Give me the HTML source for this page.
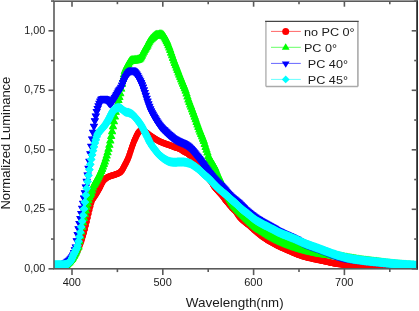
<!DOCTYPE html>
<html><head><meta charset="utf-8"><style>
html,body{margin:0;padding:0;background:#fff;width:419px;height:311px;overflow:hidden}
svg{display:block;will-change:transform}
text{font-family:"Liberation Sans",sans-serif}
</style></head><body>
<svg width="419" height="311" viewBox="0 0 419 311" font-family="Liberation Sans, sans-serif" fill="#1a1a1a">
<rect width="419" height="311" fill="#fff"/>
<defs>
<marker id="mr" markerUnits="userSpaceOnUse" markerWidth="10" markerHeight="10" refX="0" refY="0" overflow="visible"><circle r="3.0" fill="#f00"/></marker>
<marker id="mg" markerUnits="userSpaceOnUse" markerWidth="10" markerHeight="10" refX="0" refY="0" overflow="visible"><polygon points="0,-4.6 4.1,2.4 -4.1,2.4" fill="#0f0"/></marker>
<marker id="mb" markerUnits="userSpaceOnUse" markerWidth="10" markerHeight="10" refX="0" refY="0" overflow="visible"><polygon points="-4.1,-2.4 4.1,-2.4 0,4.6" fill="#00f"/></marker>
<marker id="mc" markerUnits="userSpaceOnUse" markerWidth="10" markerHeight="10" refX="0" refY="0" overflow="visible"><polygon points="0,-4.2 4.2,0 0,4.2 -4.2,0" fill="#0ff"/></marker>
</defs><defs><clipPath id="pa"><rect x="54" y="1.2" width="363.2" height="267.6"/></clipPath></defs>
<g clip-path="url(#pa)">
<path d="M54.00,266.80 C55.33,266.78 60.00,266.83 62.00,266.70 C64.00,266.57 64.92,266.40 66.00,266.00 C67.08,265.60 67.70,265.00 68.50,264.30 C69.30,263.60 70.05,262.72 70.80,261.80 C71.55,260.88 72.30,259.83 73.00,258.80 C73.70,257.77 74.37,256.68 75.00,255.60 C75.63,254.52 76.23,253.40 76.80,252.30 C77.37,251.20 77.89,250.22 78.40,249.00 C78.91,247.78 79.32,246.50 79.87,245.00 C80.42,243.50 81.13,241.67 81.70,240.00 C82.26,238.33 82.78,236.67 83.27,235.00 C83.76,233.33 84.21,231.67 84.65,230.00 C85.08,228.33 85.49,226.67 85.89,225.00 C86.29,223.33 86.67,221.67 87.05,220.00 C87.44,218.33 87.81,216.67 88.20,215.00 C88.60,213.33 88.98,211.67 89.40,210.00 C89.82,208.33 90.24,206.67 90.71,205.00 C91.17,203.33 91.36,201.70 92.18,200.00 C92.99,198.30 94.40,196.75 95.60,194.80 C96.80,192.85 98.42,190.10 99.40,188.30 C100.38,186.50 100.73,185.38 101.50,184.00 C102.27,182.62 102.92,181.17 104.00,180.00 C105.08,178.83 106.50,177.78 108.00,177.00 C109.50,176.22 111.17,175.97 113.00,175.30 C114.83,174.63 117.53,173.80 119.00,173.00 C120.47,172.20 120.92,171.67 121.80,170.50 C122.68,169.33 123.30,167.92 124.30,166.00 C125.30,164.08 126.78,161.38 127.80,159.00 C128.82,156.62 129.50,154.28 130.40,151.70 C131.30,149.12 132.23,146.03 133.20,143.50 C134.17,140.97 135.30,138.38 136.20,136.50 C137.10,134.62 137.80,133.22 138.60,132.20 C139.40,131.18 140.10,130.60 141.00,130.40 C141.90,130.20 143.00,130.53 144.00,131.00 C145.00,131.47 145.92,132.40 147.00,133.20 C148.08,134.00 149.40,135.02 150.50,135.80 C151.60,136.58 152.45,137.17 153.60,137.90 C154.75,138.63 156.33,139.58 157.40,140.20 C158.47,140.82 158.73,141.03 160.00,141.60 C161.27,142.17 163.33,142.98 165.00,143.60 C166.67,144.22 168.33,144.68 170.00,145.30 C171.67,145.92 173.33,146.68 175.00,147.30 C176.67,147.92 178.52,148.30 180.00,149.00 C181.48,149.70 182.62,150.75 183.90,151.50 C185.18,152.25 186.42,152.63 187.70,153.50 C188.98,154.37 190.32,155.58 191.60,156.70 C192.88,157.82 194.17,158.90 195.40,160.20 C196.63,161.50 197.90,163.03 199.00,164.50 C200.10,165.97 200.95,167.42 202.00,169.00 C203.05,170.58 204.25,172.50 205.30,174.00 C206.35,175.50 207.28,176.67 208.30,178.00 C209.32,179.33 210.45,180.62 211.40,182.00 C212.35,183.38 213.05,184.97 214.00,186.30 C214.95,187.63 216.07,188.83 217.10,190.00 C218.13,191.17 219.17,192.13 220.20,193.30 C221.23,194.47 222.33,195.75 223.30,197.00 C224.27,198.25 225.22,199.80 226.00,200.80 C226.78,201.80 227.02,201.87 228.00,203.00 C228.98,204.13 230.62,206.18 231.90,207.60 C233.18,209.02 234.35,209.85 235.70,211.50 C237.05,213.15 238.45,215.75 240.00,217.50 C241.55,219.25 243.33,220.58 245.00,222.00 C246.67,223.42 248.33,224.57 250.00,226.00 C251.67,227.43 253.33,229.11 255.00,230.56 C256.67,232.01 258.33,233.42 260.00,234.72 C261.67,236.02 263.33,237.25 265.00,238.38 C266.67,239.51 268.17,240.43 270.00,241.50 C271.83,242.57 274.00,243.77 276.00,244.80 C278.00,245.83 280.00,246.78 282.00,247.70 C284.00,248.62 286.00,249.43 288.00,250.30 C290.00,251.17 292.00,252.07 294.00,252.90 C296.00,253.73 297.33,254.43 300.00,255.30 C302.67,256.17 307.05,257.35 310.00,258.10 C312.95,258.85 315.13,259.25 317.70,259.80 C320.27,260.35 322.85,260.85 325.40,261.40 C327.95,261.95 330.57,262.63 333.00,263.10 C335.43,263.57 337.17,263.83 340.00,264.20 C342.83,264.57 346.67,264.97 350.00,265.30 C353.33,265.63 355.33,265.83 360.00,266.20 C364.67,266.57 371.33,267.17 378.00,267.50 C384.67,267.83 393.50,267.98 400.00,268.20 C406.50,268.42 414.17,268.70 417.00,268.80" transform="translate(0,0.00)" fill="none" stroke="#ff0000" stroke-width="1.50" stroke-linejoin="round" stroke-linecap="round"/>
<polyline points="54.00,266.55 54.91,266.55 55.82,266.55 56.72,266.55 57.63,266.54 58.54,266.54 59.45,266.53 60.36,266.51 61.26,266.49 62.17,266.44 63.08,266.36 63.99,266.26 64.90,266.09 65.80,265.83 66.71,265.44 67.62,264.83 68.53,264.06 69.44,263.18 70.34,262.15 71.25,261.04 72.16,259.83 73.07,258.52 73.98,257.13 74.88,255.63 75.79,254.04 76.70,252.34 77.61,250.58 78.52,248.59 79.42,246.11 80.33,243.63 81.24,241.18 82.15,238.53 83.06,235.62 83.96,232.46 84.87,229.04 85.78,225.36 86.69,221.50 87.60,217.55 88.50,213.64 89.41,209.87 90.32,206.33 91.23,202.73 92.14,199.96 93.04,198.35 93.95,197.03 94.86,195.75 95.77,194.35 96.68,192.86 97.58,191.33 98.49,189.76 99.40,188.15 100.31,186.33 101.22,184.38 102.12,182.68 103.03,181.08 103.94,179.87 104.85,178.96 105.76,178.20 106.66,177.55 107.57,177.00 108.48,176.53 109.39,176.17 110.30,175.89 111.20,175.62 112.11,175.35 113.02,175.05 113.93,174.73 114.84,174.41 115.74,174.10 116.65,173.77 117.56,173.42 118.47,173.03 119.38,172.56 120.28,171.96 121.19,171.08 122.10,169.90 123.01,168.36 123.92,166.59 124.82,164.85 125.73,163.13 126.64,161.35 127.55,159.44 128.46,157.23 129.36,154.66 130.27,151.96 131.18,149.27 132.09,146.53 133.00,143.92 133.90,141.59 134.81,139.42 135.72,137.38 136.63,135.46 137.54,133.68 138.44,132.22 139.35,131.14 140.26,130.44 141.17,130.12 142.08,130.13 142.98,130.35 143.89,130.71 144.80,131.24 145.71,131.94 146.62,132.68 147.52,133.37 148.43,134.05 149.34,134.73 150.25,135.39 151.16,136.04 152.06,136.66 152.97,137.27 153.88,137.85 154.79,138.41 155.70,138.96 156.60,139.50 157.51,140.03 158.42,140.57 159.33,141.05 160.24,141.47 161.14,141.85 162.05,142.22 162.96,142.58 163.87,142.93 164.78,143.27 165.68,143.60 166.59,143.91 167.50,144.21 168.41,144.50 169.32,144.81 170.22,145.14 171.13,145.50 172.04,145.87 172.95,146.24 173.86,146.61 174.76,146.97 175.67,147.29 176.58,147.58 177.49,147.85 178.40,148.14 179.30,148.46 180.21,148.87 181.12,149.39 182.03,150.00 182.94,150.65 183.84,151.23 184.75,151.72 185.66,152.15 186.57,152.60 187.48,153.12 188.38,153.76 189.29,154.49 190.20,155.26 191.11,156.05 192.02,156.85 192.92,157.64 193.83,158.45 194.74,159.32 195.65,160.26 196.56,161.27 197.46,162.35 198.37,163.49 199.28,164.70 200.19,166.02 201.10,167.43 202.00,168.83 202.91,170.22 203.82,171.62 204.73,172.99 205.64,174.29 206.54,175.52 207.45,176.71 208.36,177.89 209.27,179.04 210.18,180.17 211.08,181.37 211.99,182.76 212.90,184.35 213.81,185.84 214.72,187.06 215.62,188.14 216.53,189.16 217.44,190.17 218.35,191.13 219.26,192.08 220.16,193.06 221.07,194.10 221.98,195.17 222.89,196.29 223.80,197.48 224.70,198.79 225.61,200.09 226.52,201.23 227.43,202.17 228.34,203.19 229.24,204.28 230.15,205.37 231.06,206.45 231.97,207.47 232.88,208.40 233.78,209.26 234.69,210.17 235.60,211.19 236.51,212.39 237.42,213.74 238.32,215.10 239.23,216.37 240.14,217.46 241.05,218.39 241.96,219.22 242.86,220.01 243.77,220.76 244.68,221.51 245.59,222.27 246.50,223.00 247.40,223.70 248.31,224.41 249.22,225.13 250.13,225.89 251.04,226.70 251.94,227.54 252.85,228.39 253.76,229.23 254.67,230.05 255.58,230.84 256.48,231.62 257.39,232.39 258.30,233.14 259.21,233.87 260.12,234.59 261.02,235.29 261.93,235.97 262.84,236.64 263.75,237.29 264.66,237.92 265.56,238.53 266.47,239.12 267.38,239.70 268.29,240.25 269.20,240.80 270.10,241.33 271.01,241.85 271.92,242.36 272.83,242.87 273.74,243.36 274.64,243.85 275.55,244.33 276.46,244.80 277.37,245.26 278.28,245.70 279.18,246.14 280.09,246.58 281.00,247.00 281.91,247.42 282.82,247.83 283.72,248.23 284.63,248.62 285.54,249.01 286.45,249.39 287.36,249.78 288.26,250.17 289.17,250.57 290.08,250.97 290.99,251.37 291.90,251.76 292.80,252.15 293.71,252.54 294.62,252.92 295.53,253.32 296.44,253.71 297.34,254.09 298.25,254.45 299.16,254.77 300.07,255.08 300.98,255.36 301.88,255.64 302.79,255.90 303.70,256.16 304.61,256.42 305.52,256.67 306.42,256.92 307.33,257.16 308.24,257.40 309.15,257.64 310.06,257.87 310.96,258.09 311.87,258.31 312.78,258.51 313.69,258.71 314.60,258.90 315.50,259.09 316.41,259.28 317.32,259.47 318.23,259.66 319.14,259.86 320.04,260.04 320.95,260.23 321.86,260.41 322.77,260.60 323.68,260.79 324.58,260.98 325.49,261.17 326.40,261.37 327.31,261.58 328.22,261.79 329.12,262.01 330.03,262.22 330.94,262.42 331.85,262.62 332.76,262.80 333.66,262.98 334.57,263.14 335.48,263.30 336.39,263.44 337.30,263.58 338.20,263.71 339.11,263.83 340.02,263.95 340.93,264.07 341.84,264.18 342.74,264.28 343.65,264.39 344.56,264.49 345.47,264.58 346.38,264.68 347.28,264.77 348.19,264.87 349.10,264.96 350.01,265.05 350.92,265.14 351.82,265.23 352.73,265.32 353.64,265.41 354.55,265.49 355.46,265.57 356.36,265.65 357.27,265.73 358.18,265.80 359.09,265.88 360.00,265.95 360.90,266.02 361.81,266.10 362.72,266.17 363.63,266.24 364.54,266.32 365.44,266.39 366.35,266.46 367.26,266.54 368.17,266.61 369.08,266.68 369.98,266.74 370.89,266.81 371.80,266.87 372.71,266.94 373.62,267.00 374.52,267.05 375.43,267.11 376.34,267.16 377.25,267.21 378.16,267.26 379.06,267.30 379.97,267.34 380.88,267.38 381.79,267.41 382.70,267.45 383.60,267.48 384.51,267.51 385.42,267.54 386.33,267.57 387.24,267.59 388.14,267.62 389.05,267.64 389.96,267.67 390.87,267.69 391.78,267.72 392.68,267.74 393.59,267.76 394.50,267.79 395.41,267.81 396.32,267.84 397.22,267.86 398.13,267.89 399.04,267.92 399.95,267.95 400.86,267.98 401.76,268.01 402.67,268.04 403.58,268.07 404.49,268.10 405.40,268.14 406.30,268.17 407.21,268.20 408.12,268.23 409.03,268.26 409.94,268.30 410.84,268.33 411.75,268.36 412.66,268.39 413.57,268.43 414.48,268.46 415.38,268.49 416.29,268.52" fill="none" stroke="none" marker-start="url(#mr)" marker-mid="url(#mr)" marker-end="url(#mr)"/>
<polyline points="54.00,267.05 54.91,267.05 55.82,267.05 56.72,267.05 57.63,267.04 58.54,267.04 59.45,267.03 60.36,267.01 61.26,266.99 62.17,266.94 63.08,266.86 63.99,266.76 64.90,266.58 65.80,266.31 66.71,265.91 67.62,265.28 68.53,264.49 69.44,263.59 70.34,262.55 71.25,261.42 72.16,260.19 73.07,258.88 73.98,257.47 74.88,255.96 75.79,254.36 76.70,252.65 77.61,250.86 78.52,248.85 79.42,246.36 80.33,243.87 81.24,241.41 82.15,238.75 83.06,235.82 83.96,232.65 84.87,229.22 85.78,225.53 86.69,221.66 87.60,217.71 88.50,213.81 89.41,210.04 90.32,206.51 91.23,202.95 92.14,200.21 93.04,198.66 93.95,197.38 94.86,196.10 95.77,194.70 96.68,193.19 97.58,191.66 98.49,190.08 99.40,188.45 100.31,186.64 101.22,184.69 102.12,183.00 103.03,181.44 103.94,180.26 104.85,179.38 105.76,178.64 106.66,178.01 107.57,177.47 108.48,177.01 109.39,176.66 110.30,176.37 111.20,176.11 112.11,175.84 113.02,175.54 113.93,175.22 114.84,174.90 115.74,174.58 116.65,174.25 117.56,173.90 118.47,173.50 119.38,173.02 120.28,172.39 121.19,171.47 122.10,170.26 123.01,168.69 123.92,166.90 124.82,165.16 125.73,163.43 126.64,161.64 127.55,159.71 128.46,157.48 129.36,154.89 130.27,152.18 131.18,149.50 132.09,146.76 133.00,144.17 133.90,141.84 134.81,139.69 135.72,137.67 136.63,135.76 137.54,134.01 138.44,132.59 139.35,131.56 140.26,130.91 141.17,130.62 142.08,130.63 142.98,130.84 143.89,131.19 144.80,131.70 145.71,132.39 146.62,133.13 147.52,133.81 148.43,134.50 149.34,135.18 150.25,135.84 151.16,136.49 152.06,137.12 152.97,137.72 153.88,138.31 154.79,138.87 155.70,139.43 156.60,139.97 157.51,140.50 158.42,141.04 159.33,141.52 160.24,141.94 161.14,142.33 162.05,142.70 162.96,143.06 163.87,143.42 164.78,143.76 165.68,144.09 166.59,144.40 167.50,144.69 168.41,144.99 169.32,145.30 170.22,145.63 171.13,145.98 172.04,146.35 172.95,146.73 173.86,147.10 174.76,147.45 175.67,147.78 176.58,148.07 177.49,148.34 178.40,148.62 179.30,148.94 180.21,149.34 181.12,149.85 182.03,150.46 182.94,151.11 183.84,151.70 184.75,152.19 185.66,152.63 186.57,153.07 187.48,153.58 188.38,154.21 189.29,154.93 190.20,155.69 191.11,156.49 192.02,157.28 192.92,158.07 193.83,158.88 194.74,159.74 195.65,160.67 196.56,161.67 197.46,162.74 198.37,163.87 199.28,165.06 200.19,166.38 201.10,167.78 202.00,169.18 202.91,170.57 203.82,171.97 204.73,173.34 205.64,174.66 206.54,175.89 207.45,177.08 208.36,178.27 209.27,179.42 210.18,180.55 211.08,181.73 211.99,183.10 212.90,184.70 213.81,186.20 214.72,187.43 215.62,188.53 216.53,189.56 217.44,190.58 218.35,191.54 219.26,192.48 220.16,193.46 221.07,194.49 221.98,195.56 222.89,196.66 223.80,197.85 224.70,199.16 225.61,200.47 226.52,201.62 227.43,202.56 228.34,203.59 229.24,204.68 230.15,205.77 231.06,206.84 231.97,207.88 232.88,208.81 233.78,209.68 234.69,210.57 235.60,211.57 236.51,212.76 237.42,214.10 238.32,215.46 239.23,216.75 240.14,217.85 241.05,218.80 241.96,219.65 242.86,220.44 243.77,221.20 244.68,221.95 245.59,222.71 246.50,223.44 247.40,224.14 248.31,224.85 249.22,225.57 250.13,226.33 251.04,227.13 251.94,227.96 252.85,228.81 253.76,229.66 254.67,230.48 255.58,231.28 256.48,232.06 257.39,232.82 258.30,233.58 259.21,234.31 260.12,235.03 261.02,235.73 261.93,236.42 262.84,237.09 263.75,237.74 264.66,238.37 265.56,238.99 266.47,239.58 267.38,240.16 268.29,240.72 269.20,241.26 270.10,241.79 271.01,242.32 271.92,242.83 272.83,243.34 273.74,243.84 274.64,244.32 275.55,244.80 276.46,245.27 277.37,245.73 278.28,246.18 279.18,246.62 280.09,247.05 281.00,247.48 281.91,247.90 282.82,248.31 283.72,248.71 284.63,249.10 285.54,249.49 286.45,249.88 287.36,250.26 288.26,250.65 289.17,251.05 290.08,251.45 290.99,251.85 291.90,252.24 292.80,252.63 293.71,253.02 294.62,253.40 295.53,253.80 296.44,254.19 297.34,254.58 298.25,254.93 299.16,255.26 300.07,255.57 300.98,255.85 301.88,256.13 302.79,256.39 303.70,256.65 304.61,256.91 305.52,257.16 306.42,257.41 307.33,257.65 308.24,257.89 309.15,258.13 310.06,258.36 310.96,258.59 311.87,258.80 312.78,259.01 313.69,259.21 314.60,259.40 315.50,259.59 316.41,259.78 317.32,259.97 318.23,260.16 319.14,260.35 320.04,260.54 320.95,260.72 321.86,260.91 322.77,261.10 323.68,261.28 324.58,261.47 325.49,261.67 326.40,261.87 327.31,262.08 328.22,262.29 329.12,262.50 330.03,262.71 330.94,262.92 331.85,263.11 332.76,263.30 333.66,263.47 334.57,263.64 335.48,263.80 336.39,263.94 337.30,264.08 338.20,264.21 339.11,264.33 340.02,264.45 340.93,264.57 341.84,264.68 342.74,264.78 343.65,264.88 344.56,264.98 345.47,265.08 346.38,265.18 347.28,265.27 348.19,265.37 349.10,265.46 350.01,265.55 350.92,265.64 351.82,265.73 352.73,265.82 353.64,265.91 354.55,265.99 355.46,266.07 356.36,266.15 357.27,266.23 358.18,266.30 359.09,266.38 360.00,266.45 360.90,266.52 361.81,266.59 362.72,266.67 363.63,266.74 364.54,266.82 365.44,266.89 366.35,266.96 367.26,267.04 368.17,267.11 369.08,267.18 369.98,267.24 370.89,267.31 371.80,267.37 372.71,267.44 373.62,267.50 374.52,267.55 375.43,267.61 376.34,267.66 377.25,267.71 378.16,267.76 379.06,267.80 379.97,267.84 380.88,267.88 381.79,267.91 382.70,267.95 383.60,267.98 384.51,268.01 385.42,268.04 386.33,268.07 387.24,268.09 388.14,268.12 389.05,268.14 389.96,268.17 390.87,268.19 391.78,268.22 392.68,268.24 393.59,268.26 394.50,268.29 395.41,268.31 396.32,268.34 397.22,268.36 398.13,268.39 399.04,268.42 399.95,268.45 400.86,268.48 401.76,268.51 402.67,268.54 403.58,268.57 404.49,268.60 405.40,268.63 406.30,268.67 407.21,268.70 408.12,268.73 409.03,268.76 409.94,268.80 410.84,268.83 411.75,268.86 412.66,268.89 413.57,268.93 414.48,268.96 415.38,268.99 416.29,269.02" fill="none" stroke="none" marker-start="url(#mr)" marker-mid="url(#mr)" marker-end="url(#mr)"/>
<path d="M54.00,266.80 C55.33,266.77 60.17,266.77 62.00,266.60 C63.83,266.43 64.08,266.23 65.00,265.80 C65.92,265.37 66.67,264.72 67.50,264.00 C68.33,263.28 69.17,262.42 70.00,261.50 C70.83,260.58 71.75,259.58 72.50,258.50 C73.25,257.42 73.87,256.17 74.50,255.00 C75.13,253.83 75.75,252.75 76.30,251.50 C76.85,250.25 77.44,248.25 77.80,247.50 C78.16,246.75 78.21,247.92 78.47,247.00 C78.73,246.08 79.06,243.67 79.36,242.00 C79.65,240.33 79.95,238.67 80.26,237.00 C80.57,235.33 80.88,233.67 81.19,232.00 C81.51,230.33 81.83,228.67 82.17,227.00 C82.50,225.33 82.84,223.67 83.20,222.00 C83.55,220.33 83.91,218.67 84.29,217.00 C84.67,215.33 85.06,213.67 85.47,212.00 C85.87,210.33 86.29,208.67 86.73,207.00 C87.17,205.33 87.62,203.67 88.10,202.00 C88.57,200.33 89.00,198.58 89.58,197.00 C90.17,195.42 90.93,194.33 91.60,192.50 C92.27,190.67 92.80,187.92 93.62,186.00 C94.43,184.08 95.60,182.67 96.51,181.00 C97.42,179.33 98.27,177.67 99.07,176.00 C99.88,174.33 100.63,172.67 101.33,171.00 C102.04,169.33 102.70,167.67 103.33,166.00 C103.95,164.33 104.53,162.67 105.08,161.00 C105.63,159.33 106.14,157.67 106.62,156.00 C107.10,154.33 107.55,152.67 107.98,151.00 C108.41,149.33 108.81,147.67 109.19,146.00 C109.58,144.33 109.93,142.67 110.28,141.00 C110.63,139.33 110.96,137.67 111.29,136.00 C111.61,134.33 111.92,132.67 112.23,131.00 C112.54,129.33 112.83,127.67 113.14,126.00 C113.44,124.33 113.74,122.67 114.05,121.00 C114.36,119.33 114.67,117.67 114.99,116.00 C115.32,114.33 115.65,112.67 116.00,111.00 C116.35,109.33 116.71,107.67 117.09,106.00 C117.48,104.33 117.95,102.33 118.31,101.00 C118.66,99.67 118.88,99.17 119.20,98.00 C119.52,96.83 119.90,95.33 120.20,94.00 C120.50,92.67 120.65,91.83 121.00,90.00 C121.35,88.17 121.88,85.17 122.30,83.00 C122.72,80.83 123.12,78.83 123.50,77.00 C123.88,75.17 124.13,73.50 124.60,72.00 C125.07,70.50 125.72,69.17 126.30,68.00 C126.88,66.83 127.52,66.07 128.10,65.00 C128.68,63.93 129.23,62.33 129.80,61.60 C130.37,60.87 130.63,60.83 131.50,60.60 C132.37,60.37 133.92,60.33 135.00,60.20 C136.08,60.07 137.17,60.05 138.00,59.80 C138.83,59.55 139.37,59.30 140.00,58.70 C140.63,58.10 141.22,57.22 141.80,56.20 C142.38,55.18 142.88,53.82 143.50,52.60 C144.12,51.38 144.82,50.10 145.50,48.90 C146.18,47.70 146.87,46.75 147.60,45.40 C148.33,44.05 149.00,42.10 149.90,40.80 C150.80,39.50 152.03,38.50 153.00,37.60 C153.97,36.70 154.87,35.80 155.70,35.40 C156.53,35.00 157.28,35.33 158.00,35.20 C158.72,35.07 159.33,34.67 160.00,34.60 C160.67,34.53 161.33,34.52 162.00,34.80 C162.67,35.08 163.18,35.13 164.00,36.30 C164.82,37.47 166.07,40.02 166.90,41.80 C167.73,43.58 168.32,45.22 169.00,47.00 C169.68,48.78 170.23,50.33 171.00,52.50 C171.77,54.67 172.53,57.08 173.60,60.00 C174.67,62.92 176.12,66.67 177.40,70.00 C178.68,73.33 179.98,76.67 181.30,80.00 C182.62,83.33 184.10,86.67 185.30,90.00 C186.50,93.33 187.35,96.67 188.50,100.00 C189.65,103.33 190.98,106.67 192.20,110.00 C193.42,113.33 194.60,116.67 195.80,120.00 C197.00,123.33 198.12,126.60 199.40,130.00 C200.68,133.40 202.50,137.65 203.50,140.40 C204.50,143.15 204.75,144.45 205.40,146.50 C206.05,148.55 206.80,150.78 207.40,152.70 C208.00,154.62 208.27,156.37 209.00,158.00 C209.73,159.63 211.02,161.17 211.80,162.50 C212.58,163.83 213.17,165.08 213.70,166.00 C214.23,166.92 214.48,166.90 215.00,168.00 C215.52,169.10 216.22,171.15 216.80,172.60 C217.38,174.05 217.93,175.45 218.50,176.70 C219.07,177.95 219.50,178.63 220.20,180.10 C220.90,181.57 221.73,183.43 222.70,185.50 C223.67,187.57 224.95,190.42 226.00,192.50 C227.05,194.58 227.90,196.07 229.00,198.00 C230.10,199.93 231.35,202.32 232.60,204.10 C233.85,205.88 235.22,207.28 236.50,208.70 C237.78,210.12 239.02,211.32 240.30,212.60 C241.58,213.88 242.58,214.83 244.20,216.40 C245.82,217.97 248.03,220.20 250.00,222.00 C251.97,223.80 254.33,225.90 256.00,227.20 C257.67,228.50 258.67,228.95 260.00,229.80 C261.33,230.65 262.33,231.27 264.00,232.30 C265.67,233.33 267.33,234.50 270.00,236.00 C272.67,237.50 277.00,239.87 280.00,241.30 C283.00,242.73 285.43,243.60 288.00,244.60 C290.57,245.60 292.90,246.47 295.40,247.30 C297.90,248.13 300.57,248.92 303.00,249.60 C305.43,250.28 307.17,250.73 310.00,251.40 C312.83,252.07 316.67,253.00 320.00,253.60 C323.33,254.20 326.67,254.47 330.00,255.00 C333.33,255.53 336.67,256.20 340.00,256.80 C343.33,257.40 346.67,258.03 350.00,258.60 C353.33,259.17 356.67,259.72 360.00,260.20 C363.33,260.68 366.67,261.08 370.00,261.50 C373.33,261.92 376.67,262.28 380.00,262.70 C383.33,263.12 386.67,263.62 390.00,264.00 C393.33,264.38 395.50,264.63 400.00,265.00 C404.50,265.37 414.17,266.00 417.00,266.20" transform="translate(0,0.00)" fill="none" stroke="#00ff00" stroke-width="2.00" stroke-linejoin="round" stroke-linecap="round"/>
<polyline points="54.00,266.00 54.91,265.99 55.82,265.98 56.72,265.96 57.63,265.95 58.54,265.94 59.45,265.92 60.36,265.89 61.26,265.85 62.17,265.79 63.08,265.68 63.99,265.47 64.90,265.09 65.80,264.61 66.71,263.96 67.62,263.21 68.53,262.38 69.44,261.46 70.34,260.48 71.25,259.48 72.16,258.39 73.07,257.07 73.98,255.46 74.88,253.81 75.79,252.13 76.70,250.02 77.61,247.60 78.52,246.52 79.42,241.36 80.33,236.40 81.24,231.54 82.15,226.87 83.06,222.43 83.96,218.21 84.87,214.22 85.78,210.44 86.69,206.87 87.60,203.49 88.50,200.20 89.41,197.11 90.32,194.93 91.23,193.04 92.14,190.41 93.04,187.20 93.95,184.85 94.86,183.18 95.77,181.72 96.68,180.18 97.58,178.48 98.49,176.71 99.40,174.85 100.31,172.90 101.22,170.85 102.12,168.68 103.03,166.39 103.94,163.95 104.85,161.34 105.76,158.54 106.66,155.53 107.57,152.27 108.48,148.73 109.39,144.89 110.30,140.70 111.20,136.19 112.11,131.40 113.02,126.44 113.93,121.45 114.84,116.59 115.74,111.99 116.65,107.69 117.56,103.73 118.47,100.12 119.38,97.07 120.28,93.37 121.19,88.75 122.10,83.83 123.01,79.16 123.92,74.62 124.82,71.00 125.73,68.75 126.64,66.88 127.55,65.43 128.46,63.76 129.36,61.74 130.27,60.43 131.18,59.93 132.09,59.69 133.00,59.58 133.90,59.50 134.81,59.42 135.72,59.33 136.63,59.24 137.54,59.12 138.44,58.89 139.35,58.50 140.26,57.79 141.17,56.68 142.08,55.17 142.98,53.21 143.89,51.35 144.80,49.64 145.71,48.02 146.62,46.56 147.52,45.04 148.43,43.15 149.34,41.21 150.25,39.75 151.16,38.68 152.06,37.78 152.97,36.94 153.88,36.08 154.79,35.26 155.70,34.63 156.60,34.41 157.51,34.44 158.42,34.30 159.33,33.97 160.24,33.78 161.14,33.78 162.05,34.05 162.96,34.53 163.87,35.50 164.78,37.03 165.68,38.80 166.59,40.69 167.50,42.72 168.41,45.03 169.32,47.44 170.22,49.94 171.13,52.50 172.04,55.16 172.95,57.80 173.86,60.31 174.76,62.73 175.67,65.11 176.58,67.47 177.49,69.83 178.40,72.18 179.30,74.51 180.21,76.83 181.12,79.13 182.03,81.39 182.94,83.60 183.84,85.82 184.75,88.14 185.66,90.66 186.57,93.50 187.48,96.48 188.38,99.30 189.29,101.85 190.20,104.28 191.11,106.68 192.02,109.11 192.92,111.61 193.83,114.13 194.74,116.67 195.65,119.20 196.56,121.74 197.46,124.30 198.37,126.83 199.28,129.29 200.19,131.63 201.10,133.89 202.00,136.15 202.91,138.46 203.82,140.94 204.73,143.87 205.64,146.90 206.54,149.70 207.45,152.52 208.36,155.83 209.27,158.12 210.18,159.55 211.08,160.85 211.99,162.30 212.90,163.98 213.81,165.67 214.72,166.98 215.62,169.06 216.53,171.50 217.44,173.77 218.35,175.91 219.26,177.78 220.16,179.56 221.07,181.51 221.98,183.49 222.89,185.45 223.80,187.41 224.70,189.35 225.61,191.24 226.52,193.02 227.43,194.71 228.34,196.32 229.24,197.92 230.15,199.54 231.06,201.12 231.97,202.59 232.88,203.90 233.78,205.04 234.69,206.08 235.60,207.07 236.51,208.06 237.42,209.03 238.32,209.96 239.23,210.87 240.14,211.77 241.05,212.67 241.96,213.56 242.86,214.44 243.77,215.31 244.68,216.20 245.59,217.09 246.50,217.98 247.40,218.86 248.31,219.74 249.22,220.60 250.13,221.44 251.04,222.26 251.94,223.07 252.85,223.87 253.76,224.65 254.67,225.42 255.58,226.16 256.48,226.85 257.39,227.47 258.30,228.04 259.21,228.57 260.12,229.13 261.02,229.71 261.93,230.28 262.84,230.84 263.75,231.41 264.66,231.98 265.56,232.56 266.47,233.14 267.38,233.71 268.29,234.26 269.20,234.79 270.10,235.31 271.01,235.82 271.92,236.32 272.83,236.82 273.74,237.31 274.64,237.80 275.55,238.28 276.46,238.76 277.37,239.23 278.28,239.69 279.18,240.14 280.09,240.58 281.00,241.00 281.91,241.40 282.82,241.79 283.72,242.16 284.63,242.53 285.54,242.88 286.45,243.23 287.36,243.58 288.26,243.93 289.17,244.28 290.08,244.62 290.99,244.96 291.90,245.30 292.80,245.62 293.71,245.94 294.62,246.26 295.53,246.56 296.44,246.86 297.34,247.15 298.25,247.43 299.16,247.70 300.07,247.97 300.98,248.24 301.88,248.50 302.79,248.76 303.70,249.01 304.61,249.26 305.52,249.50 306.42,249.74 307.33,249.97 308.24,250.19 309.15,250.41 310.06,250.62 310.96,250.84 311.87,251.05 312.78,251.27 313.69,251.48 314.60,251.68 315.50,251.89 316.41,252.09 317.32,252.28 318.23,252.47 319.14,252.65 320.04,252.81 320.95,252.97 321.86,253.11 322.77,253.24 323.68,253.36 324.58,253.48 325.49,253.59 326.40,253.70 327.31,253.82 328.22,253.94 329.12,254.07 330.03,254.21 330.94,254.36 331.85,254.51 332.76,254.67 333.66,254.84 334.57,255.00 335.48,255.17 336.39,255.34 337.30,255.51 338.20,255.68 339.11,255.84 340.02,256.01 340.93,256.17 341.84,256.34 342.74,256.51 343.65,256.67 344.56,256.84 345.47,257.00 346.38,257.17 347.28,257.33 348.19,257.49 349.10,257.65 350.01,257.81 350.92,257.96 351.82,258.11 352.73,258.26 353.64,258.41 354.55,258.56 355.46,258.71 356.36,258.85 357.27,258.99 358.18,259.13 359.09,259.27 360.00,259.40 360.90,259.53 361.81,259.66 362.72,259.78 363.63,259.90 364.54,260.02 365.44,260.13 366.35,260.25 367.26,260.36 368.17,260.47 369.08,260.59 369.98,260.70 370.89,260.81 371.80,260.92 372.71,261.03 373.62,261.14 374.52,261.25 375.43,261.35 376.34,261.46 377.25,261.57 378.16,261.68 379.06,261.79 379.97,261.90 380.88,262.01 381.79,262.13 382.70,262.25 383.60,262.38 384.51,262.50 385.42,262.62 386.33,262.74 387.24,262.86 388.14,262.98 389.05,263.09 389.96,263.20 390.87,263.30 391.78,263.41 392.68,263.51 393.59,263.61 394.50,263.70 395.41,263.79 396.32,263.88 397.22,263.96 398.13,264.04 399.04,264.12 399.95,264.20 400.86,264.27 401.76,264.34 402.67,264.41 403.58,264.47 404.49,264.54 405.40,264.60 406.30,264.67 407.21,264.73 408.12,264.79 409.03,264.86 409.94,264.92 410.84,264.98 411.75,265.04 412.66,265.10 413.57,265.17 414.48,265.23 415.38,265.29 416.29,265.35" fill="none" stroke="none" marker-start="url(#mg)" marker-mid="url(#mg)" marker-end="url(#mg)"/>
<polyline points="54.00,267.60 54.91,267.59 55.82,267.58 56.72,267.56 57.63,267.55 58.54,267.54 59.45,267.52 60.36,267.49 61.26,267.45 62.17,267.38 63.08,267.26 63.99,267.03 64.90,266.61 65.80,266.08 66.71,265.38 67.62,264.58 68.53,263.72 69.44,262.77 70.34,261.76 71.25,260.71 72.16,259.55 73.07,258.16 73.98,256.50 74.88,254.78 75.79,253.03 76.70,250.97 77.61,248.31 78.52,247.11 79.42,241.87 80.33,236.82 81.24,231.98 82.15,227.33 83.06,222.91 83.96,218.71 84.87,214.75 85.78,211.00 86.69,207.45 87.60,204.10 88.50,200.87 89.41,197.86 90.32,195.72 91.23,193.81 92.14,191.18 93.04,187.98 93.95,185.71 94.86,184.17 95.77,182.77 96.68,181.21 97.58,179.47 98.49,177.66 99.40,175.78 100.31,173.79 101.22,171.71 102.12,169.51 103.03,167.18 103.94,164.70 104.85,162.05 105.76,159.22 106.66,156.16 107.57,152.86 108.48,149.28 109.39,145.40 110.30,141.18 111.20,136.64 112.11,131.84 113.02,126.87 113.93,121.88 114.84,117.04 115.74,112.46 116.65,108.20 117.56,104.28 118.47,100.69 119.38,97.61 120.28,93.87 121.19,89.21 122.10,84.28 123.01,79.64 123.92,75.17 124.82,71.66 125.73,69.58 126.64,67.86 127.55,66.42 128.46,64.81 129.36,62.89 130.27,61.75 131.18,61.44 132.09,61.27 133.00,61.17 133.90,61.10 134.81,61.02 135.72,60.92 136.63,60.84 137.54,60.70 138.44,60.42 139.35,59.94 140.26,59.08 141.17,57.80 142.08,56.19 142.98,54.18 143.89,52.32 144.80,50.66 145.71,49.07 146.62,47.58 147.52,46.04 148.43,44.15 149.34,42.26 150.25,40.91 151.16,39.95 152.06,39.12 152.97,38.31 153.88,37.48 154.79,36.72 155.70,36.17 156.60,35.99 157.51,36.03 158.42,35.89 159.33,35.56 160.24,35.38 161.14,35.38 162.05,35.59 162.96,35.93 163.87,36.74 164.78,38.11 165.68,39.78 166.59,41.60 167.50,43.58 168.41,45.85 169.32,48.22 170.22,50.70 171.13,53.25 172.04,55.91 172.95,58.55 173.86,61.08 174.76,63.51 175.67,65.90 176.58,68.27 177.49,70.63 178.40,72.98 179.30,75.32 180.21,77.64 181.12,79.96 182.03,82.22 182.94,84.43 183.84,86.63 184.75,88.91 185.66,91.40 186.57,94.20 187.48,97.18 188.38,100.02 189.29,102.60 190.20,105.06 191.11,107.46 192.02,109.89 192.92,112.38 193.83,114.89 194.74,117.43 195.65,119.96 196.56,122.50 197.46,125.06 198.37,127.60 199.28,130.08 200.19,132.44 201.10,134.71 202.00,136.96 202.91,139.23 203.82,141.67 204.73,144.57 205.64,147.58 206.54,150.37 207.45,153.22 208.36,156.60 209.27,158.98 210.18,160.56 211.08,161.93 211.99,163.36 212.90,165.05 213.81,166.68 214.72,167.93 215.62,169.96 216.53,172.33 217.44,174.62 218.35,176.81 219.26,178.69 220.16,180.49 221.07,182.43 221.98,184.40 222.89,186.36 223.80,188.33 224.70,190.28 225.61,192.19 226.52,194.01 227.43,195.71 228.34,197.34 229.24,198.95 230.15,200.58 231.06,202.19 231.97,203.71 232.88,205.07 233.78,206.27 234.69,207.34 235.60,208.36 236.51,209.36 237.42,210.34 238.32,211.28 239.23,212.20 240.14,213.11 241.05,214.01 241.96,214.90 242.86,215.78 243.77,216.66 244.68,217.54 245.59,218.43 246.50,219.32 247.40,220.21 248.31,221.09 249.22,221.95 250.13,222.80 251.04,223.63 251.94,224.44 252.85,225.25 253.76,226.04 254.67,226.82 255.58,227.57 256.48,228.29 257.39,228.93 258.30,229.51 259.21,230.05 260.12,230.61 261.02,231.19 261.93,231.76 262.84,232.32 263.75,232.88 264.66,233.45 265.56,234.03 266.47,234.62 267.38,235.19 268.29,235.75 269.20,236.29 270.10,236.81 271.01,237.32 271.92,237.82 272.83,238.32 273.74,238.81 274.64,239.30 275.55,239.79 276.46,240.27 277.37,240.74 278.28,241.21 279.18,241.66 280.09,242.11 281.00,242.53 281.91,242.94 282.82,243.33 283.72,243.71 284.63,244.07 285.54,244.43 286.45,244.78 287.36,245.13 288.26,245.48 289.17,245.83 290.08,246.18 290.99,246.52 291.90,246.85 292.80,247.18 293.71,247.50 294.62,247.82 295.53,248.12 296.44,248.42 297.34,248.71 298.25,248.99 299.16,249.27 300.07,249.54 300.98,249.81 301.88,250.07 302.79,250.33 303.70,250.58 304.61,250.83 305.52,251.08 306.42,251.31 307.33,251.54 308.24,251.77 309.15,251.99 310.06,252.20 310.96,252.42 311.87,252.63 312.78,252.85 313.69,253.06 314.60,253.27 315.50,253.47 316.41,253.67 317.32,253.87 318.23,254.05 319.14,254.23 320.04,254.40 320.95,254.56 321.86,254.70 322.77,254.83 323.68,254.95 324.58,255.07 325.49,255.18 326.40,255.30 327.31,255.41 328.22,255.53 329.12,255.66 330.03,255.80 330.94,255.95 331.85,256.10 332.76,256.26 333.66,256.42 334.57,256.59 335.48,256.76 336.39,256.93 337.30,257.10 338.20,257.27 339.11,257.43 340.02,257.60 340.93,257.76 341.84,257.93 342.74,258.09 343.65,258.26 344.56,258.43 345.47,258.59 346.38,258.76 347.28,258.92 348.19,259.08 349.10,259.24 350.01,259.40 350.92,259.55 351.82,259.70 352.73,259.85 353.64,260.00 354.55,260.15 355.46,260.30 356.36,260.44 357.27,260.59 358.18,260.73 359.09,260.86 360.00,261.00 360.90,261.13 361.81,261.25 362.72,261.37 363.63,261.49 364.54,261.61 365.44,261.73 366.35,261.84 367.26,261.96 368.17,262.07 369.08,262.18 369.98,262.30 370.89,262.41 371.80,262.52 372.71,262.63 373.62,262.73 374.52,262.84 375.43,262.95 376.34,263.06 377.25,263.16 378.16,263.27 379.06,263.38 379.97,263.49 380.88,263.61 381.79,263.73 382.70,263.85 383.60,263.97 384.51,264.09 385.42,264.22 386.33,264.34 387.24,264.46 388.14,264.57 389.05,264.69 389.96,264.79 390.87,264.90 391.78,265.00 392.68,265.10 393.59,265.20 394.50,265.30 395.41,265.39 396.32,265.48 397.22,265.56 398.13,265.64 399.04,265.72 399.95,265.79 400.86,265.87 401.76,265.94 402.67,266.00 403.58,266.07 404.49,266.14 405.40,266.20 406.30,266.27 407.21,266.33 408.12,266.39 409.03,266.45 409.94,266.52 410.84,266.58 411.75,266.64 412.66,266.70 413.57,266.76 414.48,266.83 415.38,266.89 416.29,266.95" fill="none" stroke="none" marker-start="url(#mg)" marker-mid="url(#mg)" marker-end="url(#mg)"/>
<path d="M54.00,265.20 C55.00,265.13 58.50,264.97 60.00,264.80 C61.50,264.63 62.00,264.53 63.00,264.20 C64.00,263.87 65.08,263.33 66.00,262.80 C66.92,262.27 67.73,261.63 68.50,261.00 C69.27,260.37 69.93,259.78 70.60,259.00 C71.27,258.22 71.97,257.27 72.50,256.30 C73.03,255.33 73.42,254.25 73.80,253.20 C74.18,252.15 74.43,251.20 74.80,250.00 C75.17,248.80 75.73,247.50 76.04,246.00 C76.35,244.50 76.44,242.67 76.66,241.00 C76.88,239.33 77.12,237.67 77.37,236.00 C77.62,234.33 77.89,232.67 78.16,231.00 C78.43,229.33 78.71,227.67 79.00,226.00 C79.29,224.33 79.58,222.67 79.88,221.00 C80.17,219.33 80.47,217.67 80.77,216.00 C81.07,214.33 81.38,212.67 81.68,211.00 C81.98,209.33 82.28,207.67 82.58,206.00 C82.87,204.33 83.17,202.67 83.46,201.00 C83.75,199.33 84.04,197.67 84.32,196.00 C84.60,194.33 84.88,192.67 85.16,191.00 C85.43,189.33 85.69,187.67 85.95,186.00 C86.22,184.33 86.47,182.67 86.72,181.00 C86.97,179.33 87.21,177.67 87.45,176.00 C87.68,174.33 87.91,172.67 88.14,171.00 C88.37,169.33 88.59,167.67 88.80,166.00 C89.02,164.33 89.23,162.67 89.44,161.00 C89.65,159.33 89.85,157.67 90.05,156.00 C90.26,154.33 90.46,152.67 90.66,151.00 C90.86,149.33 91.06,147.67 91.27,146.00 C91.47,144.33 91.67,142.67 91.89,141.00 C92.10,139.33 92.31,137.67 92.53,136.00 C92.76,134.33 92.98,132.67 93.22,131.00 C93.47,129.33 93.71,127.67 93.98,126.00 C94.24,124.33 94.52,122.67 94.82,121.00 C95.11,119.33 95.42,117.67 95.76,116.00 C96.10,114.33 96.29,112.92 96.83,111.00 C97.37,109.08 98.34,106.30 99.00,104.50 C99.66,102.70 100.22,101.13 100.80,100.20 C101.38,99.27 101.80,99.12 102.50,98.90 C103.20,98.68 104.20,98.68 105.00,98.90 C105.80,99.12 106.47,99.42 107.30,100.20 C108.13,100.98 109.13,103.43 110.00,103.60 C110.87,103.77 111.67,102.22 112.50,101.20 C113.33,100.18 114.25,98.70 115.00,97.50 C115.75,96.30 116.33,95.17 117.00,94.00 C117.67,92.83 118.35,91.50 119.00,90.50 C119.65,89.50 120.18,89.42 120.90,88.00 C121.62,86.58 122.52,83.83 123.30,82.00 C124.08,80.17 124.82,78.47 125.60,77.00 C126.38,75.53 127.10,74.27 128.00,73.20 C128.90,72.13 130.00,70.93 131.00,70.60 C132.00,70.27 133.08,70.63 134.00,71.20 C134.92,71.77 135.75,72.95 136.50,74.00 C137.25,75.05 137.67,75.92 138.50,77.50 C139.33,79.08 140.65,81.58 141.50,83.50 C142.35,85.42 142.92,87.08 143.60,89.00 C144.28,90.92 144.90,92.83 145.60,95.00 C146.30,97.17 146.95,99.50 147.80,102.00 C148.65,104.50 149.75,107.75 150.70,110.00 C151.65,112.25 152.48,113.67 153.50,115.50 C154.52,117.33 155.65,119.20 156.80,121.00 C157.95,122.80 159.03,124.65 160.40,126.30 C161.77,127.95 163.40,129.37 165.00,130.90 C166.60,132.43 168.33,134.10 170.00,135.50 C171.67,136.90 173.33,138.25 175.00,139.30 C176.67,140.35 178.52,141.12 180.00,141.80 C181.48,142.48 182.48,142.62 183.90,143.40 C185.32,144.18 187.08,145.35 188.50,146.50 C189.92,147.65 191.12,148.88 192.40,150.30 C193.68,151.72 195.05,153.58 196.20,155.00 C197.35,156.42 198.40,157.65 199.30,158.80 C200.20,159.95 200.82,160.82 201.60,161.90 C202.38,162.98 203.27,164.23 204.00,165.30 C204.73,166.37 204.78,166.63 206.00,168.30 C207.22,169.97 209.52,173.10 211.30,175.30 C213.08,177.50 214.60,179.28 216.70,181.50 C218.80,183.72 222.02,186.60 223.90,188.60 C225.78,190.60 226.57,191.97 228.00,193.50 C229.43,195.03 230.98,196.47 232.50,197.80 C234.02,199.13 235.43,200.05 237.10,201.50 C238.77,202.95 241.02,205.05 242.50,206.50 C243.98,207.95 244.58,208.92 246.00,210.20 C247.42,211.48 249.33,212.90 251.00,214.20 C252.67,215.50 254.13,216.75 256.00,218.00 C257.87,219.25 260.15,220.52 262.20,221.70 C264.25,222.88 266.25,223.95 268.30,225.10 C270.35,226.25 272.55,227.50 274.50,228.60 C276.45,229.70 277.80,230.62 280.00,231.70 C282.20,232.78 285.13,233.93 287.70,235.10 C290.27,236.27 292.83,237.40 295.40,238.70 C297.97,240.00 300.67,241.73 303.10,242.90 C305.53,244.07 307.57,244.78 310.00,245.70 C312.43,246.62 315.13,247.47 317.70,248.40 C320.27,249.33 322.83,250.30 325.40,251.30 C327.97,252.30 330.33,253.40 333.10,254.40 C335.87,255.40 339.18,256.60 342.00,257.30 C344.82,258.00 347.00,258.18 350.00,258.60 C353.00,259.02 355.00,259.23 360.00,259.80 C365.00,260.37 373.33,261.30 380.00,262.00 C386.67,262.70 393.83,263.50 400.00,264.00 C406.17,264.50 414.17,264.83 417.00,265.00" transform="translate(0,0.00)" fill="none" stroke="#0000ff" stroke-width="1.50" stroke-linejoin="round" stroke-linecap="round"/>
<polyline points="54.00,264.70 54.91,264.65 55.82,264.60 56.72,264.54 57.63,264.49 58.54,264.43 59.45,264.35 60.36,264.26 61.26,264.14 62.17,263.96 63.08,263.69 63.99,263.34 64.90,262.92 65.80,262.45 66.71,261.90 67.62,261.25 68.53,260.54 69.44,259.78 70.34,258.89 71.25,257.82 72.16,256.56 73.07,254.85 73.98,252.46 74.88,249.56 75.79,246.87 76.70,240.58 77.61,234.36 78.52,228.73 79.42,223.44 80.33,218.32 81.24,213.29 82.15,208.26 83.06,203.18 83.96,197.98 84.87,192.60 85.78,187.00 86.69,181.10 87.60,174.84 88.50,168.17 89.41,161.10 90.32,153.71 91.23,146.21 92.14,138.94 93.04,132.16 93.95,126.06 94.86,120.63 95.77,115.81 96.68,111.40 97.58,108.37 98.49,105.68 99.40,103.15 100.31,100.83 101.22,99.25 102.12,98.57 103.03,98.29 103.94,98.24 104.85,98.37 105.76,98.68 106.66,99.23 107.57,100.10 108.48,101.47 109.39,102.72 110.30,103.09 111.20,102.46 112.11,101.32 113.02,100.16 113.93,98.84 114.84,97.42 115.74,95.92 116.65,94.29 117.56,92.67 118.47,91.02 119.38,89.65 120.28,88.66 121.19,87.08 122.10,84.82 123.01,82.45 123.92,80.29 124.82,78.26 125.73,76.44 126.64,74.80 127.55,73.40 128.46,72.27 129.36,71.29 130.27,70.51 131.18,70.06 132.09,69.99 133.00,70.22 133.90,70.69 134.81,71.44 135.72,72.55 136.63,73.83 137.54,75.34 138.44,77.08 139.35,78.82 140.26,80.61 141.17,82.49 142.08,84.60 142.98,87.02 143.89,89.60 144.80,92.31 145.71,95.12 146.62,98.07 147.52,100.95 148.43,103.63 149.34,106.21 150.25,108.63 151.16,110.76 152.06,112.59 152.97,114.24 153.88,115.85 154.79,117.41 155.70,118.90 156.60,120.35 157.51,121.78 158.42,123.20 159.33,124.53 160.24,125.72 161.14,126.75 162.05,127.68 162.96,128.56 163.87,129.41 164.78,130.26 165.68,131.13 166.59,132.00 167.50,132.85 168.41,133.68 169.32,134.48 170.22,135.25 171.13,136.00 172.04,136.73 172.95,137.43 173.86,138.08 174.76,138.69 175.67,139.24 176.58,139.73 177.49,140.17 178.40,140.60 179.30,141.00 180.21,141.41 181.12,141.78 182.03,142.10 182.94,142.45 183.84,142.90 184.75,143.43 185.66,144.00 186.57,144.61 187.48,145.26 188.38,145.97 189.29,146.74 190.20,147.59 191.11,148.50 192.02,149.48 192.92,150.50 193.83,151.61 194.74,152.76 195.65,153.92 196.56,155.05 197.46,156.15 198.37,157.26 199.28,158.39 200.19,159.59 201.10,160.83 202.00,162.10 202.91,163.38 203.82,164.68 204.73,166.07 205.64,167.43 206.54,168.68 207.45,169.91 208.36,171.12 209.27,172.32 210.18,173.50 211.08,174.65 211.99,175.76 212.90,176.85 213.81,177.91 214.72,178.94 215.62,179.94 216.53,180.91 217.44,181.85 218.35,182.75 219.26,183.63 220.16,184.50 221.07,185.37 221.98,186.25 222.89,187.15 223.80,188.08 224.70,189.09 225.61,190.19 226.52,191.35 227.43,192.46 228.34,193.45 229.24,194.36 230.15,195.24 231.06,196.08 231.97,196.90 232.88,197.69 233.78,198.42 234.69,199.12 235.60,199.83 236.51,200.56 237.42,201.34 238.32,202.16 239.23,202.99 240.14,203.83 241.05,204.68 241.96,205.55 242.86,206.45 243.77,207.43 244.68,208.46 245.59,209.39 246.50,210.21 247.40,210.96 248.31,211.68 249.22,212.38 250.13,213.08 251.04,213.78 251.94,214.50 252.85,215.22 253.76,215.93 254.67,216.61 255.58,217.26 256.48,217.86 257.39,218.43 258.30,218.98 259.21,219.51 260.12,220.04 261.02,220.56 261.93,221.08 262.84,221.60 263.75,222.11 264.66,222.62 265.56,223.12 266.47,223.62 267.38,224.12 268.29,224.62 269.20,225.14 270.10,225.65 271.01,226.16 271.92,226.67 272.83,227.19 273.74,227.70 274.64,228.21 275.55,228.74 276.46,229.28 277.37,229.81 278.28,230.33 279.18,230.81 280.09,231.27 281.00,231.70 281.91,232.11 282.82,232.50 283.72,232.89 284.63,233.28 285.54,233.67 286.45,234.06 287.36,234.47 288.26,234.88 289.17,235.29 290.08,235.70 290.99,236.11 291.90,236.53 292.80,236.96 293.71,237.39 294.62,237.84 295.53,238.29 296.44,238.77 297.34,239.27 298.25,239.78 299.16,240.30 300.07,240.82 300.98,241.32 301.88,241.81 302.79,242.28 303.70,242.70 304.61,243.11 305.52,243.49 306.42,243.86 307.33,244.21 308.24,244.56 309.15,244.90 310.06,245.24 310.96,245.57 311.87,245.89 312.78,246.21 313.69,246.52 314.60,246.83 315.50,247.14 316.41,247.45 317.32,247.78 318.23,248.11 319.14,248.44 320.04,248.78 320.95,249.12 321.86,249.46 322.77,249.80 323.68,250.15 324.58,250.50 325.49,250.85 326.40,251.22 327.31,251.59 328.22,251.97 329.12,252.35 330.03,252.72 330.94,253.09 331.85,253.45 332.76,253.79 333.66,254.12 334.57,254.44 335.48,254.77 336.39,255.08 337.30,255.40 338.20,255.70 339.11,255.99 340.02,256.26 340.93,256.53 341.84,256.77 342.74,256.98 343.65,257.17 344.56,257.34 345.47,257.49 346.38,257.62 347.28,257.74 348.19,257.86 349.10,257.98 350.01,258.10 350.92,258.23 351.82,258.35 352.73,258.46 353.64,258.57 354.55,258.68 355.46,258.79 356.36,258.89 357.27,258.99 358.18,259.10 359.09,259.20 360.00,259.30 360.90,259.40 361.81,259.51 362.72,259.61 363.63,259.71 364.54,259.81 365.44,259.91 366.35,260.02 367.26,260.12 368.17,260.22 369.08,260.32 369.98,260.42 370.89,260.52 371.80,260.62 372.71,260.72 373.62,260.82 374.52,260.92 375.43,261.01 376.34,261.11 377.25,261.21 378.16,261.31 379.06,261.40 379.97,261.50 380.88,261.59 381.79,261.69 382.70,261.79 383.60,261.88 384.51,261.98 385.42,262.08 386.33,262.17 387.24,262.27 388.14,262.36 389.05,262.46 389.96,262.55 390.87,262.65 391.78,262.74 392.68,262.83 393.59,262.92 394.50,263.01 395.41,263.09 396.32,263.18 397.22,263.26 398.13,263.34 399.04,263.42 399.95,263.50 400.86,263.57 401.76,263.64 402.67,263.70 403.58,263.76 404.49,263.82 405.40,263.88 406.30,263.93 407.21,263.99 408.12,264.04 409.03,264.09 409.94,264.14 410.84,264.18 411.75,264.23 412.66,264.28 413.57,264.32 414.48,264.37 415.38,264.41 416.29,264.46" fill="none" stroke="none" marker-start="url(#mb)" marker-mid="url(#mb)" marker-end="url(#mb)"/>
<polyline points="54.00,265.70 54.91,265.65 55.82,265.59 56.72,265.54 57.63,265.49 58.54,265.42 59.45,265.35 60.36,265.26 61.26,265.13 62.17,264.94 63.08,264.66 63.99,264.30 64.90,263.87 65.80,263.38 66.71,262.81 67.62,262.15 68.53,261.41 69.44,260.62 70.34,259.69 71.25,258.56 72.16,257.20 73.07,255.39 73.98,252.94 74.88,249.91 75.79,247.16 76.70,240.84 77.61,234.58 78.52,228.97 79.42,223.69 80.33,218.58 81.24,213.55 82.15,208.52 83.06,203.43 83.96,198.22 84.87,192.84 85.78,187.23 86.69,181.31 87.60,175.04 88.50,168.37 89.41,161.29 90.32,153.89 91.23,146.40 92.14,139.13 93.04,132.37 93.95,126.29 94.86,120.89 95.77,116.11 96.68,111.75 97.58,108.76 98.49,106.14 99.40,103.67 100.31,101.45 101.22,100.01 102.12,99.48 103.03,99.28 103.94,99.24 104.85,99.36 105.76,99.63 106.66,100.11 107.57,100.91 108.48,102.29 109.39,103.63 110.30,104.09 111.20,103.36 112.11,102.10 113.02,100.89 113.93,99.55 114.84,98.10 115.74,96.58 116.65,94.94 117.56,93.33 118.47,91.72 119.38,90.34 120.28,89.32 121.19,87.68 122.10,85.36 123.01,82.97 123.92,80.84 124.82,78.84 125.73,77.07 126.64,75.48 127.55,74.14 128.46,73.07 129.36,72.15 130.27,71.44 131.18,71.04 132.09,70.99 133.00,71.19 133.90,71.60 134.81,72.29 135.72,73.31 136.63,74.53 137.54,76.00 138.44,77.71 139.35,79.43 140.26,81.20 141.17,83.05 142.08,85.12 142.98,87.51 143.89,90.06 144.80,92.76 145.71,95.55 146.62,98.50 147.52,101.39 148.43,104.08 149.34,106.69 150.25,109.14 151.16,111.32 152.06,113.18 152.97,114.87 153.88,116.50 154.79,118.07 155.70,119.58 156.60,121.03 157.51,122.47 158.42,123.91 159.33,125.26 160.24,126.48 161.14,127.55 162.05,128.51 162.96,129.40 163.87,130.25 164.78,131.11 165.68,131.98 166.59,132.84 167.50,133.70 168.41,134.54 169.32,135.35 170.22,136.12 171.13,136.88 172.04,137.61 172.95,138.32 173.86,138.99 174.76,139.61 175.67,140.17 176.58,140.67 177.49,141.12 178.40,141.55 179.30,141.96 180.21,142.38 181.12,142.74 182.03,143.06 182.94,143.41 183.84,143.84 184.75,144.36 185.66,144.92 186.57,145.52 187.48,146.16 188.38,146.85 189.29,147.60 190.20,148.43 191.11,149.33 192.02,150.28 192.92,151.29 193.83,152.39 194.74,153.53 195.65,154.69 196.56,155.82 197.46,156.93 198.37,158.03 199.28,159.15 200.19,160.34 201.10,161.57 202.00,162.83 202.91,164.10 203.82,165.40 204.73,166.79 205.64,168.15 206.54,169.41 207.45,170.65 208.36,171.87 209.27,173.08 210.18,174.26 211.08,175.42 211.99,176.54 212.90,177.63 213.81,178.70 214.72,179.74 215.62,180.75 216.53,181.73 217.44,182.68 218.35,183.58 219.26,184.47 220.16,185.34 221.07,186.21 221.98,187.09 222.89,187.98 223.80,188.90 224.70,189.89 225.61,190.97 226.52,192.13 227.43,193.26 228.34,194.26 229.24,195.20 230.15,196.08 231.06,196.93 231.97,197.76 232.88,198.56 233.78,199.30 234.69,200.01 235.60,200.71 236.51,201.44 237.42,202.21 238.32,203.02 239.23,203.84 240.14,204.68 241.05,205.53 241.96,206.39 242.86,207.28 243.77,208.25 244.68,209.28 245.59,210.23 246.50,211.07 247.40,211.83 248.31,212.56 249.22,213.27 250.13,213.97 251.04,214.67 251.94,215.39 252.85,216.11 253.76,216.82 254.67,217.51 255.58,218.17 256.48,218.78 257.39,219.35 258.30,219.91 259.21,220.44 260.12,220.97 261.02,221.49 261.93,222.01 262.84,222.53 263.75,223.05 264.66,223.55 265.56,224.05 266.47,224.55 267.38,225.06 268.29,225.56 269.20,226.07 270.10,226.58 271.01,227.10 271.92,227.61 272.83,228.12 273.74,228.64 274.64,229.15 275.55,229.67 276.46,230.21 277.37,230.75 278.28,231.27 279.18,231.76 280.09,232.22 281.00,232.65 281.91,233.06 282.82,233.46 283.72,233.85 284.63,234.24 285.54,234.63 286.45,235.02 287.36,235.42 288.26,235.83 289.17,236.25 290.08,236.66 290.99,237.07 291.90,237.49 292.80,237.91 293.71,238.34 294.62,238.78 295.53,239.24 296.44,239.71 297.34,240.21 298.25,240.72 299.16,241.24 300.07,241.75 300.98,242.26 301.88,242.76 302.79,243.22 303.70,243.66 304.61,244.07 305.52,244.46 306.42,244.83 307.33,245.18 308.24,245.53 309.15,245.87 310.06,246.21 310.96,246.54 311.87,246.87 312.78,247.18 313.69,247.49 314.60,247.80 315.50,248.11 316.41,248.43 317.32,248.75 318.23,249.08 319.14,249.41 320.04,249.75 320.95,250.09 321.86,250.43 322.77,250.77 323.68,251.12 324.58,251.47 325.49,251.82 326.40,252.18 327.31,252.55 328.22,252.93 329.12,253.31 330.03,253.69 330.94,254.06 331.85,254.42 332.76,254.76 333.66,255.09 334.57,255.42 335.48,255.74 336.39,256.06 337.30,256.37 338.20,256.67 339.11,256.97 340.02,257.25 340.93,257.51 341.84,257.75 342.74,257.97 343.65,258.16 344.56,258.33 345.47,258.48 346.38,258.62 347.28,258.74 348.19,258.86 349.10,258.98 350.01,259.10 350.92,259.22 351.82,259.34 352.73,259.46 353.64,259.57 354.55,259.68 355.46,259.78 356.36,259.89 357.27,259.99 358.18,260.09 359.09,260.20 360.00,260.30 360.90,260.40 361.81,260.50 362.72,260.61 363.63,260.71 364.54,260.81 365.44,260.91 366.35,261.01 367.26,261.11 368.17,261.21 369.08,261.32 369.98,261.42 370.89,261.52 371.80,261.62 372.71,261.72 373.62,261.81 374.52,261.91 375.43,262.01 376.34,262.11 377.25,262.21 378.16,262.30 379.06,262.40 379.97,262.50 380.88,262.59 381.79,262.69 382.70,262.78 383.60,262.88 384.51,262.98 385.42,263.07 386.33,263.17 387.24,263.27 388.14,263.36 389.05,263.46 389.96,263.55 390.87,263.64 391.78,263.74 392.68,263.83 393.59,263.92 394.50,264.01 395.41,264.09 396.32,264.18 397.22,264.26 398.13,264.34 399.04,264.42 399.95,264.49 400.86,264.57 401.76,264.63 402.67,264.70 403.58,264.76 404.49,264.82 405.40,264.88 406.30,264.93 407.21,264.98 408.12,265.04 409.03,265.09 409.94,265.13 410.84,265.18 411.75,265.23 412.66,265.28 413.57,265.32 414.48,265.37 415.38,265.41 416.29,265.46" fill="none" stroke="none" marker-start="url(#mb)" marker-mid="url(#mb)" marker-end="url(#mb)"/>
<path d="M54.00,264.80 C55.00,264.80 58.33,264.82 60.00,264.80 C61.67,264.78 62.92,264.80 64.00,264.70 C65.08,264.60 65.75,264.45 66.50,264.20 C67.25,263.95 67.90,263.62 68.50,263.20 C69.10,262.78 69.58,262.37 70.10,261.70 C70.62,261.03 71.13,260.15 71.60,259.20 C72.07,258.25 72.50,256.90 72.90,256.00 C73.30,255.10 73.65,254.50 74.00,253.80 C74.35,253.10 74.67,252.53 75.00,251.80 C75.33,251.07 75.63,250.20 76.00,249.40 C76.37,248.60 76.83,248.23 77.23,247.00 C77.62,245.77 78.00,243.67 78.36,242.00 C78.72,240.33 79.07,238.67 79.40,237.00 C79.73,235.33 80.05,233.67 80.35,232.00 C80.66,230.33 80.95,228.67 81.23,227.00 C81.52,225.33 81.79,223.67 82.05,222.00 C82.31,220.33 82.56,218.67 82.81,217.00 C83.06,215.33 83.30,213.67 83.53,212.00 C83.76,210.33 83.99,208.67 84.22,207.00 C84.44,205.33 84.66,203.67 84.88,202.00 C85.10,200.33 85.32,198.67 85.54,197.00 C85.76,195.33 85.98,193.67 86.20,192.00 C86.42,190.33 86.64,188.67 86.86,187.00 C87.09,185.33 87.32,183.67 87.55,182.00 C87.79,180.33 88.03,178.67 88.28,177.00 C88.52,175.33 88.78,173.67 89.04,172.00 C89.31,170.33 89.58,168.67 89.86,167.00 C90.14,165.33 90.44,163.67 90.74,162.00 C91.05,160.33 91.37,158.67 91.70,157.00 C92.04,155.33 92.38,153.67 92.75,152.00 C93.11,150.33 93.49,148.67 93.89,147.00 C94.29,145.33 94.57,144.02 95.14,142.00 C95.71,139.98 96.57,136.65 97.30,134.90 C98.03,133.15 98.80,132.43 99.50,131.50 C100.20,130.57 100.83,130.05 101.50,129.30 C102.17,128.55 102.77,127.90 103.50,127.00 C104.23,126.10 105.07,125.15 105.90,123.90 C106.73,122.65 107.68,120.98 108.50,119.50 C109.32,118.02 110.05,116.42 110.80,115.00 C111.55,113.58 112.22,112.07 113.00,111.00 C113.78,109.93 114.67,109.13 115.50,108.60 C116.33,108.07 117.17,107.87 118.00,107.80 C118.83,107.73 119.33,107.57 120.50,108.20 C121.67,108.83 123.58,110.83 125.00,111.60 C126.42,112.37 127.67,112.23 129.00,112.80 C130.33,113.37 131.50,113.67 133.00,115.00 C134.50,116.33 136.50,118.85 138.00,120.80 C139.50,122.75 140.75,124.58 142.00,126.70 C143.25,128.82 144.58,131.70 145.50,133.50 C146.42,135.30 146.80,136.08 147.50,137.50 C148.20,138.92 148.95,140.62 149.70,142.00 C150.45,143.38 151.22,144.63 152.00,145.80 C152.78,146.97 153.28,147.57 154.40,149.00 C155.52,150.43 157.27,152.90 158.70,154.40 C160.13,155.90 161.62,156.98 163.00,158.00 C164.38,159.02 165.83,159.88 167.00,160.50 C168.17,161.12 168.83,161.42 170.00,161.70 C171.17,161.98 172.67,162.13 174.00,162.20 C175.33,162.27 176.67,162.13 178.00,162.10 C179.33,162.07 180.77,161.98 182.00,162.00 C183.23,162.02 184.40,162.07 185.40,162.20 C186.40,162.33 187.23,162.58 188.00,162.80 C188.77,163.02 189.08,163.05 190.00,163.50 C190.92,163.95 192.33,164.75 193.50,165.50 C194.67,166.25 195.92,167.15 197.00,168.00 C198.08,168.85 198.83,169.53 200.00,170.60 C201.17,171.67 202.50,173.03 204.00,174.40 C205.50,175.77 207.33,177.20 209.00,178.80 C210.67,180.40 212.43,182.38 214.00,184.00 C215.57,185.62 216.90,187.10 218.40,188.50 C219.90,189.90 221.55,191.18 223.00,192.40 C224.45,193.62 225.65,194.53 227.10,195.80 C228.55,197.07 230.15,198.63 231.70,200.00 C233.25,201.37 234.85,202.58 236.40,204.00 C237.95,205.42 239.32,207.03 241.00,208.50 C242.68,209.97 244.82,211.45 246.50,212.80 C248.18,214.15 249.52,215.35 251.10,216.60 C252.68,217.85 254.15,219.08 256.00,220.30 C257.85,221.52 260.15,222.78 262.20,223.90 C264.25,225.02 266.25,225.95 268.30,227.00 C270.35,228.05 272.55,229.20 274.50,230.20 C276.45,231.20 277.80,232.02 280.00,233.00 C282.20,233.98 285.13,235.07 287.70,236.10 C290.27,237.13 292.83,238.10 295.40,239.20 C297.97,240.30 300.67,241.67 303.10,242.70 C305.53,243.73 307.57,244.50 310.00,245.40 C312.43,246.30 315.13,247.17 317.70,248.10 C320.27,249.03 322.83,250.05 325.40,251.00 C327.97,251.95 330.33,252.87 333.10,253.80 C335.87,254.73 339.18,255.82 342.00,256.60 C344.82,257.38 347.00,257.92 350.00,258.50 C353.00,259.08 356.67,259.63 360.00,260.10 C363.33,260.57 366.67,260.93 370.00,261.30 C373.33,261.67 376.67,261.97 380.00,262.30 C383.33,262.63 386.67,262.98 390.00,263.30 C393.33,263.62 395.50,263.87 400.00,264.20 C404.50,264.53 414.17,265.12 417.00,265.30" transform="translate(0,0.00)" fill="none" stroke="#00ffff" stroke-width="1.50" stroke-linejoin="round" stroke-linecap="round"/>
<polyline points="54.00,264.25 54.91,264.25 55.82,264.25 56.72,264.26 57.63,264.26 58.54,264.26 59.45,264.25 60.36,264.25 61.26,264.24 62.17,264.23 63.08,264.21 63.99,264.15 64.90,264.05 65.80,263.87 66.71,263.59 67.62,263.21 68.53,262.69 69.44,262.00 70.34,260.97 71.25,259.53 72.16,257.56 73.07,255.32 73.98,253.54 74.88,251.72 75.79,249.57 76.70,247.95 77.61,245.34 78.52,241.11 79.42,236.73 80.33,231.97 81.24,226.82 82.15,221.24 83.06,215.21 83.96,208.75 84.87,201.98 85.78,195.06 86.69,188.20 87.60,181.59 88.50,175.36 89.41,169.56 90.32,164.21 91.23,159.27 92.14,154.71 93.04,150.49 93.95,146.55 94.86,142.82 95.77,139.51 96.68,136.39 97.58,133.96 98.49,132.42 99.40,131.21 100.31,130.11 101.22,129.17 102.12,128.16 103.03,127.13 103.94,126.04 104.85,124.94 105.76,123.72 106.66,122.32 107.57,120.80 108.48,119.19 109.39,117.46 110.30,115.64 111.20,113.87 112.11,112.08 113.02,110.57 113.93,109.46 114.84,108.59 115.74,107.94 116.65,107.52 117.56,107.30 118.47,107.21 119.38,107.23 120.28,107.56 121.19,108.15 122.10,108.89 123.01,109.66 123.92,110.38 124.82,110.99 125.73,111.40 126.64,111.65 127.55,111.84 128.46,112.06 129.36,112.42 130.27,112.79 131.18,113.22 132.09,113.78 133.00,114.52 133.90,115.42 134.81,116.43 135.72,117.50 136.63,118.62 137.54,119.78 138.44,120.97 139.35,122.22 140.26,123.54 141.17,124.96 142.08,126.47 142.98,128.13 143.89,129.92 144.80,131.76 145.71,133.58 146.62,135.39 147.52,137.22 148.43,139.12 149.34,140.97 150.25,142.63 151.16,144.12 152.06,145.50 152.97,146.76 153.88,147.92 154.79,149.09 155.70,150.29 156.60,151.48 157.51,152.61 158.42,153.65 159.33,154.57 160.24,155.38 161.14,156.12 162.05,156.81 162.96,157.47 163.87,158.11 164.78,158.70 165.68,159.25 166.59,159.76 167.50,160.24 168.41,160.66 169.32,160.98 170.22,161.21 171.13,161.37 172.04,161.49 172.95,161.58 173.86,161.64 174.76,161.67 175.67,161.65 176.58,161.61 177.49,161.57 178.40,161.54 179.30,161.51 180.21,161.48 181.12,161.45 182.03,161.45 182.94,161.47 183.84,161.51 184.75,161.58 185.66,161.69 186.57,161.87 187.48,162.11 188.38,162.37 189.29,162.65 190.20,163.07 191.11,163.56 192.02,164.08 192.92,164.63 193.83,165.21 194.74,165.83 195.65,166.48 196.56,167.17 197.46,167.89 198.37,168.66 199.28,169.47 200.19,170.31 201.10,171.17 202.00,172.05 202.91,172.92 203.82,173.77 204.73,174.57 205.64,175.35 206.54,176.13 207.45,176.91 208.36,177.73 209.27,178.60 210.18,179.51 211.08,180.46 211.99,181.43 212.90,182.40 213.81,183.35 214.72,184.29 215.62,185.25 216.53,186.20 217.44,187.11 218.35,187.98 219.26,188.80 220.16,189.58 221.07,190.33 221.98,191.07 222.89,191.82 223.80,192.58 224.70,193.32 225.61,194.06 226.52,194.82 227.43,195.62 228.34,196.44 229.24,197.28 230.15,198.13 231.06,198.96 231.97,199.76 232.88,200.53 233.78,201.28 234.69,202.04 235.60,202.81 236.51,203.63 237.42,204.51 238.32,205.44 239.23,206.36 240.14,207.25 241.05,208.07 241.96,208.82 242.86,209.53 243.77,210.22 244.68,210.91 245.59,211.60 246.50,212.31 247.40,213.05 248.31,213.81 249.22,214.58 250.13,215.33 251.04,216.07 251.94,216.79 252.85,217.51 253.76,218.21 254.67,218.88 255.58,219.52 256.48,220.11 257.39,220.67 258.30,221.21 259.21,221.73 260.12,222.24 261.02,222.74 261.93,223.24 262.84,223.72 263.75,224.20 264.66,224.66 265.56,225.11 266.47,225.56 267.38,226.01 268.29,226.47 269.20,226.94 270.10,227.41 271.01,227.88 271.92,228.35 272.83,228.82 273.74,229.29 274.64,229.75 275.55,230.23 276.46,230.72 277.37,231.20 278.28,231.66 279.18,232.10 280.09,232.51 281.00,232.90 281.91,233.28 282.82,233.64 283.72,234.00 284.63,234.36 285.54,234.71 286.45,235.07 287.36,235.43 288.26,235.79 289.17,236.15 290.08,236.51 290.99,236.87 291.90,237.23 292.80,237.59 293.71,237.96 294.62,238.34 295.53,238.73 296.44,239.13 297.34,239.54 298.25,239.96 299.16,240.38 300.07,240.81 300.98,241.23 301.88,241.64 302.79,242.04 303.70,242.42 304.61,242.80 305.52,243.16 306.42,243.52 307.33,243.87 308.24,244.21 309.15,244.55 310.06,244.89 310.96,245.22 311.87,245.54 312.78,245.85 313.69,246.16 314.60,246.47 315.50,246.79 316.41,247.10 317.32,247.43 318.23,247.76 319.14,248.10 320.04,248.44 320.95,248.78 321.86,249.13 322.77,249.48 323.68,249.82 324.58,250.16 325.49,250.50 326.40,250.84 327.31,251.18 328.22,251.52 329.12,251.85 330.03,252.19 330.94,252.51 331.85,252.83 332.76,253.15 333.66,253.45 334.57,253.76 335.48,254.06 336.39,254.35 337.30,254.64 338.20,254.93 339.11,255.21 340.02,255.49 340.93,255.75 341.84,256.01 342.74,256.26 343.65,256.51 344.56,256.74 345.47,256.97 346.38,257.19 347.28,257.39 348.19,257.59 349.10,257.78 350.01,257.96 350.92,258.13 351.82,258.29 352.73,258.45 353.64,258.60 354.55,258.75 355.46,258.89 356.36,259.03 357.27,259.16 358.18,259.29 359.09,259.42 360.00,259.55 360.90,259.68 361.81,259.80 362.72,259.91 363.63,260.02 364.54,260.13 365.44,260.24 366.35,260.35 367.26,260.45 368.17,260.55 369.08,260.65 369.98,260.75 370.89,260.85 371.80,260.94 372.71,261.04 373.62,261.13 374.52,261.22 375.43,261.31 376.34,261.39 377.25,261.48 378.16,261.57 379.06,261.66 379.97,261.75 380.88,261.84 381.79,261.93 382.70,262.02 383.60,262.12 384.51,262.21 385.42,262.30 386.33,262.39 387.24,262.48 388.14,262.57 389.05,262.66 389.96,262.75 390.87,262.83 391.78,262.92 392.68,263.01 393.59,263.10 394.50,263.19 395.41,263.27 396.32,263.35 397.22,263.43 398.13,263.51 399.04,263.58 399.95,263.65 400.86,263.71 401.76,263.78 402.67,263.84 403.58,263.90 404.49,263.96 405.40,264.02 406.30,264.08 407.21,264.14 408.12,264.19 409.03,264.25 409.94,264.31 410.84,264.36 411.75,264.42 412.66,264.48 413.57,264.53 414.48,264.59 415.38,264.65 416.29,264.71" fill="none" stroke="none" marker-start="url(#mc)" marker-mid="url(#mc)" marker-end="url(#mc)"/>
<polyline points="54.00,265.35 54.91,265.35 55.82,265.35 56.72,265.36 57.63,265.36 58.54,265.36 59.45,265.35 60.36,265.35 61.26,265.34 62.17,265.33 63.08,265.31 63.99,265.25 64.90,265.14 65.80,264.95 66.71,264.66 67.62,264.25 68.53,263.67 69.44,262.89 70.34,261.76 71.25,260.22 72.16,258.20 73.07,255.95 73.98,254.16 74.88,252.38 75.79,250.17 76.70,248.45 77.61,245.77 78.52,241.46 79.42,237.03 80.33,232.26 81.24,227.09 82.15,221.49 83.06,215.44 83.96,208.98 84.87,202.20 85.78,195.28 86.69,188.42 87.60,181.82 88.50,175.60 89.41,169.82 90.32,164.49 91.23,159.58 92.14,155.04 93.04,150.84 93.95,146.93 94.86,143.22 95.77,139.95 96.68,136.91 97.58,134.58 98.49,133.15 99.40,132.05 100.31,130.98 101.22,130.05 102.12,129.04 103.03,128.00 103.94,126.89 104.85,125.76 105.76,124.51 106.66,123.07 107.57,121.51 108.48,119.88 109.39,118.14 110.30,116.31 111.20,114.56 112.11,112.81 113.02,111.37 113.93,110.34 114.84,109.56 115.74,108.97 116.65,108.59 117.56,108.39 118.47,108.31 119.38,108.31 120.28,108.62 121.19,109.16 122.10,109.87 123.01,110.63 123.92,111.37 124.82,112.01 125.73,112.46 126.64,112.73 127.55,112.92 128.46,113.14 129.36,113.48 130.27,113.84 131.18,114.25 132.09,114.78 133.00,115.47 133.90,116.34 134.81,117.31 135.72,118.36 136.63,119.47 137.54,120.62 138.44,121.79 139.35,123.02 140.26,124.32 141.17,125.71 142.08,127.19 142.98,128.82 143.89,130.59 144.80,132.42 145.71,134.24 146.62,136.04 147.52,137.87 148.43,139.78 149.34,141.65 150.25,143.34 151.16,144.87 152.06,146.29 152.97,147.57 153.88,148.75 154.79,149.92 155.70,151.12 156.60,152.32 157.51,153.47 158.42,154.54 159.33,155.49 160.24,156.33 161.14,157.09 162.05,157.79 162.96,158.47 163.87,159.11 164.78,159.72 165.68,160.28 166.59,160.80 167.50,161.28 168.41,161.72 169.32,162.05 170.22,162.29 171.13,162.47 172.04,162.59 172.95,162.68 173.86,162.74 174.76,162.77 175.67,162.75 176.58,162.71 177.49,162.67 178.40,162.64 179.30,162.61 180.21,162.58 181.12,162.55 182.03,162.55 182.94,162.57 183.84,162.61 184.75,162.68 185.66,162.78 186.57,162.96 187.48,163.19 188.38,163.44 189.29,163.72 190.20,164.13 191.11,164.60 192.02,165.11 192.92,165.65 193.83,166.22 194.74,166.83 195.65,167.47 196.56,168.15 197.46,168.85 198.37,169.61 199.28,170.42 200.19,171.24 201.10,172.10 202.00,172.98 202.91,173.85 203.82,174.71 204.73,175.52 205.64,176.31 206.54,177.08 207.45,177.86 208.36,178.67 209.27,179.52 210.18,180.43 211.08,181.37 211.99,182.33 212.90,183.29 213.81,184.25 214.72,185.20 215.62,186.15 216.53,187.11 217.44,188.03 218.35,188.92 219.26,189.75 220.16,190.53 221.07,191.29 221.98,192.04 222.89,192.79 223.80,193.54 224.70,194.28 225.61,195.02 226.52,195.78 227.43,196.56 228.34,197.38 229.24,198.22 230.15,199.07 231.06,199.90 231.97,200.71 232.88,201.49 233.78,202.24 234.69,202.99 235.60,203.76 236.51,204.57 237.42,205.44 238.32,206.35 239.23,207.28 240.14,208.18 241.05,209.02 241.96,209.78 242.86,210.50 243.77,211.20 244.68,211.89 245.59,212.57 246.50,213.28 247.40,214.02 248.31,214.78 249.22,215.54 250.13,216.30 251.04,217.03 251.94,217.76 252.85,218.48 253.76,219.19 254.67,219.87 255.58,220.52 256.48,221.12 257.39,221.69 258.30,222.23 259.21,222.76 260.12,223.27 261.02,223.77 261.93,224.27 262.84,224.76 263.75,225.24 264.66,225.70 265.56,226.15 266.47,226.60 267.38,227.06 268.29,227.51 269.20,227.98 270.10,228.45 271.01,228.92 271.92,229.39 272.83,229.86 273.74,230.33 274.64,230.79 275.55,231.27 276.46,231.75 277.37,232.24 278.28,232.71 279.18,233.15 280.09,233.57 281.00,233.96 281.91,234.34 282.82,234.71 283.72,235.07 284.63,235.42 285.54,235.78 286.45,236.13 287.36,236.49 288.26,236.86 289.17,237.22 290.08,237.58 290.99,237.93 291.90,238.29 292.80,238.66 293.71,239.02 294.62,239.40 295.53,239.78 296.44,240.18 297.34,240.59 298.25,241.01 299.16,241.43 300.07,241.86 300.98,242.28 301.88,242.69 302.79,243.10 303.70,243.48 304.61,243.86 305.52,244.23 306.42,244.58 307.33,244.93 308.24,245.28 309.15,245.62 310.06,245.95 310.96,246.29 311.87,246.61 312.78,246.92 313.69,247.24 314.60,247.55 315.50,247.86 316.41,248.18 317.32,248.50 318.23,248.83 319.14,249.16 320.04,249.50 320.95,249.85 321.86,250.20 322.77,250.54 323.68,250.89 324.58,251.23 325.49,251.57 326.40,251.91 327.31,252.24 328.22,252.58 329.12,252.92 330.03,253.26 330.94,253.58 331.85,253.91 332.76,254.22 333.66,254.53 334.57,254.83 335.48,255.13 336.39,255.43 337.30,255.72 338.20,256.01 339.11,256.29 340.02,256.57 340.93,256.83 341.84,257.09 342.74,257.35 343.65,257.59 344.56,257.83 345.47,258.06 346.38,258.27 347.28,258.48 348.19,258.68 349.10,258.87 350.01,259.05 350.92,259.22 351.82,259.38 352.73,259.54 353.64,259.69 354.55,259.84 355.46,259.98 356.36,260.12 357.27,260.26 358.18,260.39 359.09,260.52 360.00,260.65 360.90,260.77 361.81,260.89 362.72,261.01 363.63,261.12 364.54,261.23 365.44,261.34 366.35,261.44 367.26,261.54 368.17,261.65 369.08,261.75 369.98,261.85 370.89,261.95 371.80,262.04 372.71,262.13 373.62,262.23 374.52,262.31 375.43,262.40 376.34,262.49 377.25,262.58 378.16,262.67 379.06,262.76 379.97,262.85 380.88,262.94 381.79,263.03 382.70,263.12 383.60,263.21 384.51,263.31 385.42,263.40 386.33,263.49 387.24,263.58 388.14,263.67 389.05,263.76 389.96,263.85 390.87,263.93 391.78,264.02 392.68,264.11 393.59,264.20 394.50,264.29 395.41,264.37 396.32,264.45 397.22,264.53 398.13,264.61 399.04,264.68 399.95,264.75 400.86,264.81 401.76,264.87 402.67,264.94 403.58,265.00 404.49,265.06 405.40,265.12 406.30,265.18 407.21,265.23 408.12,265.29 409.03,265.35 409.94,265.41 410.84,265.46 411.75,265.52 412.66,265.58 413.57,265.63 414.48,265.69 415.38,265.75 416.29,265.80" fill="none" stroke="none" marker-start="url(#mc)" marker-mid="url(#mc)" marker-end="url(#mc)"/>
</g>
<rect x="54.0" y="1.2" width="363.2" height="267.6" fill="none" stroke="#5a5a5a" stroke-width="1.6"/>
<line x1="417.20" y1="0.40" x2="417.20" y2="269.60" stroke="#2a2a2a" stroke-width="1.6"/>
<line x1="72.00" y1="268.80" x2="72.00" y2="275.10" stroke="#5a5a5a" stroke-width="1.6"/>
<line x1="72.00" y1="1.20" x2="72.00" y2="6.70" stroke="#5a5a5a" stroke-width="1.6"/>
<line x1="117.40" y1="268.80" x2="117.40" y2="272.10" stroke="#5a5a5a" stroke-width="1.6"/>
<line x1="117.40" y1="1.20" x2="117.40" y2="4.20" stroke="#5a5a5a" stroke-width="1.6"/>
<line x1="162.80" y1="268.80" x2="162.80" y2="275.10" stroke="#5a5a5a" stroke-width="1.6"/>
<line x1="162.80" y1="1.20" x2="162.80" y2="6.70" stroke="#5a5a5a" stroke-width="1.6"/>
<line x1="208.20" y1="268.80" x2="208.20" y2="272.10" stroke="#5a5a5a" stroke-width="1.6"/>
<line x1="208.20" y1="1.20" x2="208.20" y2="4.20" stroke="#5a5a5a" stroke-width="1.6"/>
<line x1="253.60" y1="268.80" x2="253.60" y2="275.10" stroke="#5a5a5a" stroke-width="1.6"/>
<line x1="253.60" y1="1.20" x2="253.60" y2="6.70" stroke="#5a5a5a" stroke-width="1.6"/>
<line x1="299.00" y1="268.80" x2="299.00" y2="272.10" stroke="#5a5a5a" stroke-width="1.6"/>
<line x1="299.00" y1="1.20" x2="299.00" y2="4.20" stroke="#5a5a5a" stroke-width="1.6"/>
<line x1="344.40" y1="268.80" x2="344.40" y2="275.10" stroke="#5a5a5a" stroke-width="1.6"/>
<line x1="344.40" y1="1.20" x2="344.40" y2="6.70" stroke="#5a5a5a" stroke-width="1.6"/>
<line x1="389.80" y1="268.80" x2="389.80" y2="272.10" stroke="#5a5a5a" stroke-width="1.6"/>
<line x1="389.80" y1="1.20" x2="389.80" y2="4.20" stroke="#5a5a5a" stroke-width="1.6"/>
<line x1="48.50" y1="268.80" x2="54.00" y2="268.80" stroke="#5a5a5a" stroke-width="1.6"/>
<line x1="411.70" y1="268.80" x2="417.20" y2="268.80" stroke="#5a5a5a" stroke-width="1.6"/>
<line x1="51.00" y1="239.05" x2="54.00" y2="239.05" stroke="#5a5a5a" stroke-width="1.6"/>
<line x1="414.20" y1="239.05" x2="417.20" y2="239.05" stroke="#5a5a5a" stroke-width="1.6"/>
<line x1="48.50" y1="209.30" x2="54.00" y2="209.30" stroke="#5a5a5a" stroke-width="1.6"/>
<line x1="411.70" y1="209.30" x2="417.20" y2="209.30" stroke="#5a5a5a" stroke-width="1.6"/>
<line x1="51.00" y1="179.55" x2="54.00" y2="179.55" stroke="#5a5a5a" stroke-width="1.6"/>
<line x1="414.20" y1="179.55" x2="417.20" y2="179.55" stroke="#5a5a5a" stroke-width="1.6"/>
<line x1="48.50" y1="149.80" x2="54.00" y2="149.80" stroke="#5a5a5a" stroke-width="1.6"/>
<line x1="411.70" y1="149.80" x2="417.20" y2="149.80" stroke="#5a5a5a" stroke-width="1.6"/>
<line x1="51.00" y1="120.05" x2="54.00" y2="120.05" stroke="#5a5a5a" stroke-width="1.6"/>
<line x1="414.20" y1="120.05" x2="417.20" y2="120.05" stroke="#5a5a5a" stroke-width="1.6"/>
<line x1="48.50" y1="90.30" x2="54.00" y2="90.30" stroke="#5a5a5a" stroke-width="1.6"/>
<line x1="411.70" y1="90.30" x2="417.20" y2="90.30" stroke="#5a5a5a" stroke-width="1.6"/>
<line x1="51.00" y1="60.55" x2="54.00" y2="60.55" stroke="#5a5a5a" stroke-width="1.6"/>
<line x1="414.20" y1="60.55" x2="417.20" y2="60.55" stroke="#5a5a5a" stroke-width="1.6"/>
<line x1="48.50" y1="30.80" x2="54.00" y2="30.80" stroke="#5a5a5a" stroke-width="1.6"/>
<line x1="411.70" y1="30.80" x2="417.20" y2="30.80" stroke="#5a5a5a" stroke-width="1.6"/>
<line x1="51.00" y1="1.05" x2="54.00" y2="1.05" stroke="#5a5a5a" stroke-width="1.6"/>
<line x1="414.20" y1="1.05" x2="417.20" y2="1.05" stroke="#5a5a5a" stroke-width="1.6"/>
<text transform="translate(45.2,271.90) scale(1.08,1)" text-anchor="end" font-size="10">0,00</text>
<text transform="translate(45.2,212.40) scale(1.08,1)" text-anchor="end" font-size="10">0,25</text>
<text transform="translate(45.2,152.90) scale(1.08,1)" text-anchor="end" font-size="10">0,50</text>
<text transform="translate(45.2,93.40) scale(1.08,1)" text-anchor="end" font-size="10">0,75</text>
<text transform="translate(45.2,33.90) scale(1.08,1)" text-anchor="end" font-size="10">1,00</text>
<text transform="translate(71.80,286.1) scale(1.1,1)" text-anchor="middle" font-size="10">400</text>
<text transform="translate(162.60,286.1) scale(1.1,1)" text-anchor="middle" font-size="10">500</text>
<text transform="translate(253.40,286.1) scale(1.1,1)" text-anchor="middle" font-size="10">600</text>
<text transform="translate(344.20,286.1) scale(1.1,1)" text-anchor="middle" font-size="10">700</text>
<text transform="translate(185.8,307.3) scale(1.04,1)" font-size="13">Wavelength</text>
<text transform="translate(256.3,307.3) scale(1.02,1)" font-size="13">(nm)</text>
<text transform="translate(10.3,209.6) rotate(-90)" font-size="13">Normalized Luminance</text>
<rect x="265.9" y="21.4" width="92" height="65.1" fill="#fff" stroke="none"/>
<line x1="265.9" y1="21.4" x2="265.9" y2="86.5" stroke="#bbb" stroke-width="1.6"/>
<line x1="357.9" y1="21.4" x2="357.9" y2="86.5" stroke="#aaa" stroke-width="1.6"/>
<line x1="265.9" y1="86.5" x2="357.9" y2="86.5" stroke="#aaa" stroke-width="1.6"/>
<line x1="265.1" y1="21.4" x2="358.7" y2="21.4" stroke="#454545" stroke-width="1.1"/>
<line x1="271" y1="31.40" x2="300.8" y2="31.40" stroke="#ff0000" stroke-width="1" opacity="0.6"/>
<circle cx="285.70" cy="31.40" r="3.5" fill="#ff0000"/>
<text x="0.00" y="36.10" font-size="11.5" transform="translate(303.90,0) scale(1.1,1) translate(0.00,0)">no PC 0°</text>
<line x1="271" y1="47.30" x2="300.8" y2="47.30" stroke="#00ff00" stroke-width="1" opacity="0.6"/>
<polygon points="285.70,43.20 289.60,49.70 281.80,49.70" fill="#00ff00"/>
<text x="0.00" y="52.00" font-size="11.5" transform="translate(303.90,0) scale(1.1,1) translate(0.00,0)">PC 0°</text>
<line x1="271" y1="63.40" x2="300.8" y2="63.40" stroke="#0000ff" stroke-width="1" opacity="0.6"/>
<polygon points="281.80,61.40 289.60,61.40 285.70,67.70" fill="#0000ff"/>
<text x="0.00" y="68.10" font-size="11.5" transform="translate(307.80,0) scale(1.1,1) translate(0.00,0)">PC 40°</text>
<line x1="271" y1="79.40" x2="300.8" y2="79.40" stroke="#00ffff" stroke-width="1" opacity="0.6"/>
<polygon points="285.70,75.50 289.60,79.40 285.70,83.30 281.80,79.40" fill="#00ffff"/>
<text x="0.00" y="84.10" font-size="11.5" transform="translate(307.80,0) scale(1.1,1) translate(0.00,0)">PC 45°</text>
</svg>
</body></html>
